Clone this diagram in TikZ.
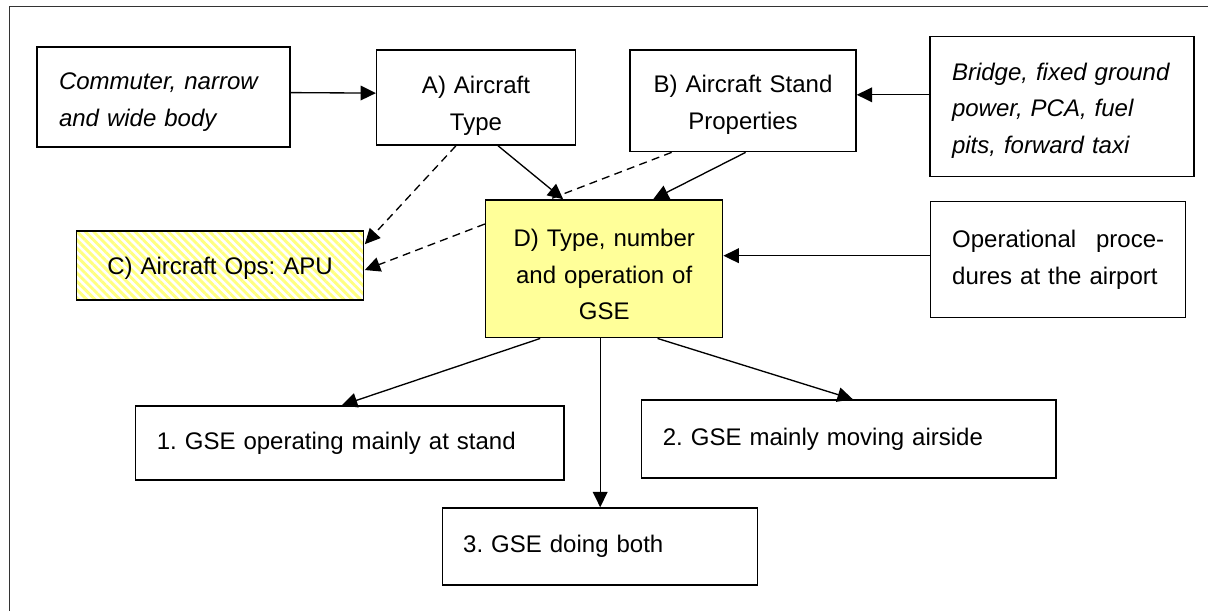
\documentclass[tikz,border=0pt]{standalone}
\usepackage{fontspec}
\setmainfont{Liberation Sans}
\usetikzlibrary{arrows.meta,patterns.meta,backgrounds}
\definecolor{gseyellow}{HTML}{FFFF99}
\definecolor{apustripe}{HTML}{FFFF80}
\frenchspacing

\begin{document}
\begin{tikzpicture}[x=0.75pt,y=-0.75pt,
  box/.style={draw,line width=1.1pt,inner sep=0pt,align=center,
    font=\fontsize{18}{27.5}\selectfont},
  itbox/.style={box,align=left,font=\fontsize{18}{27.5}\selectfont\itshape},
  textdrop/.style={execute at begin node={\rule{0pt}{#1}}},
  conn/.style={-{Triangle[length=11.5pt,width=11pt]},line width=1pt},
  dconn/.style={conn,dash pattern=on 6pt off 4pt}]
 \useasboundingbox (0,0) rectangle (1208,611);
 \draw[line width=0.7pt,black!80] (1208,6) -- (9.5,6) -- (9.5,611);

 % top row
 \node[itbox,textdrop=20.6pt,minimum width=189.75pt,minimum height=75pt,text width=156.75pt] (com) at (163.5,97) {Commuter, narrow\\and wide body};
 \node[box,textdrop=25pt,minimum width=149pt,minimum height=71.25pt,text width=135pt] (typ) at (476,97.5) {A) Aircraft\\Type};
 \node[box,textdrop=19pt,minimum width=169.5pt,minimum height=76.25pt,text width=160pt] (stand) at (743,100.8) {B) Aircraft Stand\\Properties};
 \node[itbox,textdrop=19pt,minimum width=198pt,minimum height=105pt,text width=165pt] (prop) at (1062,106.7) {Bridge, fixed ground\\power, PCA, fuel\\pits, forward taxi};

 % middle row
 \node[box,textdrop=17pt,minimum width=215pt,minimum height=51.75pt,text width=200pt,
   pattern={Lines[angle=-45,distance=4.4pt,line width=2.2pt]},pattern color=apustripe] (apu) at (220,265.5) {C) Aircraft Ops: APU};
 \node[box,textdrop=21.4pt,fill=gseyellow,minimum width=177.75pt,minimum height=103.3pt,text width=165pt] (gse) at (604.2,268.85) {D) Type, number\\and operation of\\GSE};
 \node[box,align=left,minimum width=191.25pt,minimum height=87pt,text width=159pt] (ops) at (1058.2,259.7) {Operational\hfill proce-\\dures at the airport};

 % bottom row
 \node[box,align=left,minimum width=321.2pt,minimum height=55.5pt,text width=289.5pt] (stat) at (349.85,443) {1. GSE operating mainly at stand};
 \node[box,align=left,minimum width=310.7pt,minimum height=58.5pt,text width=279pt] (move) at (848.85,439) {2. GSE mainly moving airside};
 \node[box,align=left,minimum width=236.25pt,minimum height=57.75pt,text width=205.5pt] (both) at (600.2,546.5) {3. GSE doing both};

 % inputs
 \coordinate (sb) at ([yshift=4.5pt]stand.east);
 \coordinate (ob) at ([yshift=3pt]ops.west);
 \draw[conn] ([yshift=3.3pt]com.east) -- ([yshift=3.3pt]typ.west);
 \draw[conn] (sb -| prop.west) -- (sb);
 \draw[conn] (ob) -- (ob -| gse.east);
 \draw[conn] ([xshift=16.5pt]typ.south) -- ([xshift=-30.75pt]gse.north);
 \draw[conn] ([xshift=2pt]stand.south) -- ([xshift=36.75pt]gse.north);

 % APU links, behind D
 \begin{scope}[on background layer]
  \draw[dconn] ([xshift=-15pt]typ.south) -- ([yshift=-11pt]apu.north east);
  \draw[dconn] ([xshift=-53.5pt]stand.south) -- ([yshift=-3.4pt]apu.east);
 \end{scope}

 % outputs
 \draw[conn] ([xshift=-48pt]gse.south) -- ([xshift=-6pt]stat.north);
 \draw[conn] (gse.south -| both.north) -- (both.north);
 \draw[conn] ([xshift=40pt]gse.south) -- ([xshift=3pt]move.north);
\end{tikzpicture}
\end{document}
